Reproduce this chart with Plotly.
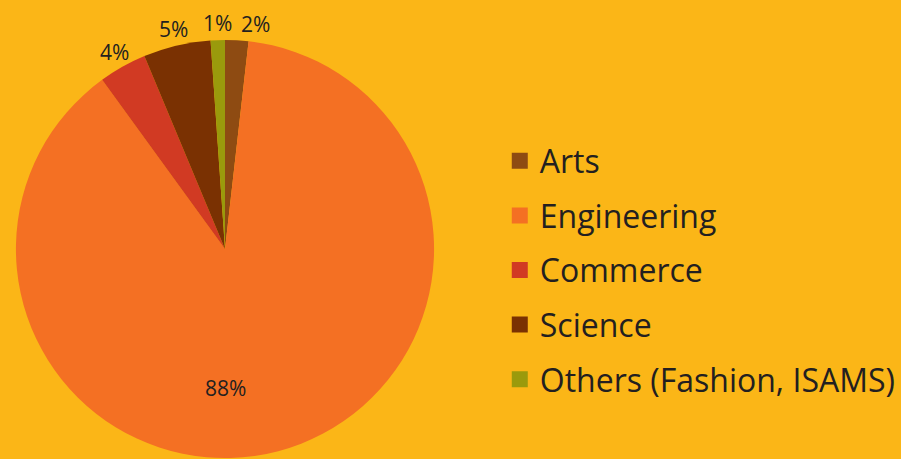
import math
import plotly.graph_objects as go

categories = ["Arts", "Engineering", "Commerce", "Science", "Others (Fashion, ISAMS)"]
values = [1.8, 88.2, 3.7, 5.2, 1.1]
colors = ["#8E4B12", "#F47023", "#D13A23", "#7A3102", "#9A9A0C"]

BG = "#FBB617"
TXT = "#231F20"
FONT = "Open Sans, Noto Sans, sans-serif"
W, H = 901, 459

# pie geometry (pixels)
CX, CY, R = 226, 249, 210

total = sum(values)
pct_text = [f"{round(v / total * 100)}%" for v in values]

fig = go.Figure()
fig.add_trace(go.Pie(
    labels=categories,
    values=values,
    sort=False,
    direction="clockwise",
    rotation=0,
    marker=dict(colors=colors, line=dict(width=0)),
    textinfo="none",
    showlegend=False,
    hoverinfo="label+percent",
    domain=dict(x=[(CX - R) / W, (CX + R) / W], y=[1 - (CY + R) / H, 1 - (CY - R) / H]),
))

# percentage labels positioned from the cumulative slice angles
cum = 0.0
labels_pos = []
for v, t in zip(values, pct_text):
    mid = (cum + v / 2) / total * 360.0
    cum += v
    frac = v / total
    if frac > 0.5:
        px, py = CX + 1, CY + 0.66 * R
        labels_pos.append([px, py, t, True])
    else:
        rr = 1.075 * R
        px = CX + rr * math.sin(math.radians(mid))
        py = CY - rr * math.cos(math.radians(mid))
        labels_pos.append([px, py, t, False])

outside = sorted([p for p in labels_pos if not p[3]], key=lambda p: p[0])
for i in range(1, len(outside)):
    a, b = outside[i - 1], outside[i]
    if abs(a[1] - b[1]) < 20 and b[0] - a[0] < 38:
        b[0] = a[0] + 38

for px, py, t, _ in labels_pos:
    fig.add_annotation(
        x=px / W, y=1 - py / H, xref="paper", yref="paper",
        text=t, showarrow=False, xanchor="center", yanchor="middle",
        font=dict(size=21, color=TXT, family=FONT),
    )

# legend entries (one per category, sharing the pie colours)
for cat, col in zip(categories, colors):
    fig.add_trace(go.Scatter(
        x=[None], y=[None], mode="markers", name=cat, legendgroup=cat,
        marker=dict(symbol="square", size=18, color=col),
        showlegend=True, hoverinfo="skip",
    ))

fig.update_layout(
    width=W, height=H,
    margin=dict(l=0, r=0, t=0, b=0),
    paper_bgcolor=BG, plot_bgcolor=BG,
    font=dict(family=FONT, color=TXT),
    xaxis=dict(visible=False), yaxis=dict(visible=False),
    legend=dict(
        x=502 / W, xanchor="left", y=1 - 270 / H, yanchor="middle",
        font=dict(size=32, color=TXT, family=FONT),
        tracegroupgap=10, itemsizing="trace",
        bgcolor="rgba(0,0,0,0)",
    ),
)

fig.write_html(
    "out.html",
    config={"displayModeBar": False},
    post_script="document.body.style.margin='0';document.body.style.overflow='hidden';"
                "document.documentElement.style.background='" + BG + "';",
)
